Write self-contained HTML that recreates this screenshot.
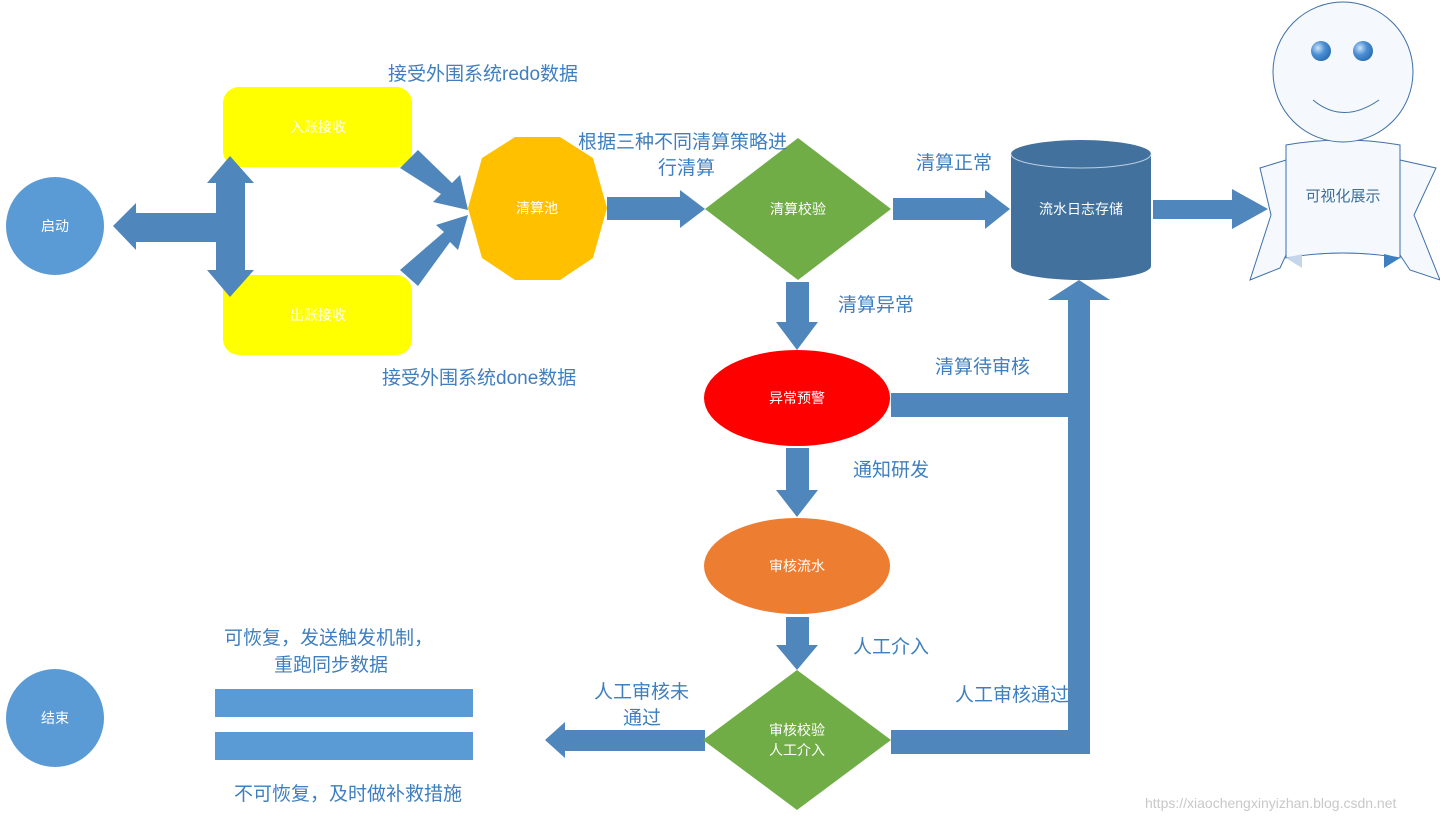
<!DOCTYPE html>
<html><head><meta charset="utf-8"><style>
body{margin:0;background:#fff;}
svg{display:block}
text{font-family:"Liberation Sans","Noto Sans CJK SC",sans-serif;}
.l{fill:#3f7fbf;font-size:19px;}
.w{fill:#fff;font-size:14px;text-anchor:middle;}
</style></head><body>
<svg width="1440" height="821" viewBox="0 0 1440 821" xmlns="http://www.w3.org/2000/svg">
<defs>
<radialGradient id="eye" cx="0.35" cy="0.35" r="0.7"><stop offset="0" stop-color="#cfe3f7"/><stop offset="0.5" stop-color="#4a8fd6"/><stop offset="1" stop-color="#2c6db0"/></radialGradient>
</defs>
<rect x="223" y="87" width="189" height="80" rx="16" fill="#ffff00"/>
<text class="w" x="318" y="132">入账接收</text>
<rect x="223" y="275" width="189" height="80" rx="16" fill="#ffff00"/>
<text class="w" x="318" y="320">出账接收</text>
<g fill="#4f86bb">
<polygon points="113,226 136,203 136,213 216,213 216,242 136,242 136,250"/>
<polygon points="230,156 254,183 245,183 245,270 254,270 230,297 207,270 216,270 216,183 207,183"/>
<polygon points="400,168 418,150 452,183 460,175 468,210 433,202 441,194"/>
<polygon points="400,270 418,286 450,242 458,250 468,215 436,225 444,232"/>
<polygon points="607,197 680,197 680,190 705,209 680,228 680,220 607,220"/>
<polygon points="893,198 985,198 985,190 1010,209 985,229 985,220 893,220"/>
<polygon points="1153,200 1232,200 1232,189 1268,209 1232,229 1232,219 1153,219"/>
<polygon points="786,282 809,282 809,322 818,322 797,350 776,322 786,322"/>
<polygon points="786,448 809,448 809,490 818,490 797,517 776,490 786,490"/>
<polygon points="786,617 809,617 809,645 818,645 797,670 776,645 786,645"/>
<polygon points="545,740 565,722 565,730 705,730 705,751 565,751 565,758"/>
<rect x="891" y="393" width="199" height="24"/>
<rect x="891" y="730" width="199" height="24"/>
<polygon points="1068,754 1068,300 1048,300 1079,280 1110,300 1090,300 1090,754"/>
</g>
<circle cx="55" cy="226" r="49" fill="#5b9bd5"/>
<text class="w" x="55" y="231">启动</text>
<circle cx="55" cy="718" r="49" fill="#5b9bd5"/>
<text class="w" x="55" y="723">结束</text>
<polygon points="515,137 560,137 593,158 607,208 593,258 560,280 515,280 482,258 468,208 482,158" fill="#ffc000"/>
<text class="w" x="537" y="213">清算池</text>
<polygon points="798,138 891,209 798,280 705,209" fill="#70ad47"/>
<text class="w" x="798" y="214">清算校验</text>
<path d="M1011,154 A70,14 0 0 1 1151,154 L1151,266 A70,14 0 0 1 1011,266 Z" fill="#41719c"/>
<path d="M1011,154 A70,14 0 0 0 1151,154" fill="none" stroke="#bcd0e4" stroke-width="1"/>
<text class="w" x="1081" y="214">流水日志存储</text>
<ellipse cx="797" cy="398" rx="93" ry="48" fill="#ff0000"/>
<text class="w" x="797" y="403">异常预警</text>
<ellipse cx="797" cy="566" rx="93" ry="48" fill="#ed7d31"/>
<text class="w" x="797" y="571">审核流水</text>
<polygon points="797,670 891,740 797,810 703,740" fill="#70ad47"/>
<text class="w" x="797" y="735">审核校验</text>
<text class="w" x="797" y="755">人工介入</text>
<rect x="215" y="689" width="258" height="28" fill="#5b9bd5"/>
<rect x="215" y="732" width="258" height="28" fill="#5b9bd5"/>
<g fill="#f5f9fd" stroke="#3d6fa8" stroke-width="1">
<polygon points="1260,168 1286,160 1286,255 1280,268 1250,280 1271,215"/>
<polygon points="1400,160 1436,168 1414,215 1440,280 1410,270 1400,255"/>
<path d="M1286,145 Q1343,135 1400,145 L1400,258 Q1343,248 1286,258 Z"/>
<circle cx="1343" cy="72" r="70"/>
</g>
<polygon points="1286,258 1302,254 1302,268" fill="#c5d6ea"/>
<polygon points="1400,258 1384,254 1384,268" fill="#3d7fc1"/>
<path d="M1313,100 Q1343,125 1379,100" fill="none" stroke="#3d6fa8" stroke-width="1"/>
<circle cx="1321" cy="51" r="10" fill="url(#eye)"/>
<circle cx="1363" cy="51" r="10" fill="url(#eye)"/>
<text x="1343" y="201" style="font-size:15px;fill:#3f6e9a;text-anchor:middle">可视化展示</text>
<text class="l" x="388" y="80">接受外围系统redo数据</text>
<text class="l" x="382" y="384">接受外围系统done数据</text>
<text class="l" x="578" y="148">根据三种不同清算策略进</text>
<text class="l" x="658" y="174">行清算</text>
<text class="l" x="916" y="169">清算正常</text>
<text class="l" x="838" y="311">清算异常</text>
<text class="l" x="935" y="373">清算待审核</text>
<text class="l" x="853" y="476">通知研发</text>
<text class="l" x="853" y="653">人工介入</text>
<text class="l" x="955" y="701">人工审核通过</text>
<text class="l" x="594" y="698">人工审核未</text>
<text class="l" x="623" y="724">通过</text>
<text class="l" x="224" y="644">可恢复，发送触发机制，</text>
<text class="l" x="274" y="671">重跑同步数据</text>
<text class="l" x="234" y="800">不可恢复，及时做补救措施</text>
<text x="1145" y="808" style="font-size:14px;fill:#c8c8c8">https://xiaochengxinyizhan.blog.csdn.net</text>
</svg>
</body></html>
